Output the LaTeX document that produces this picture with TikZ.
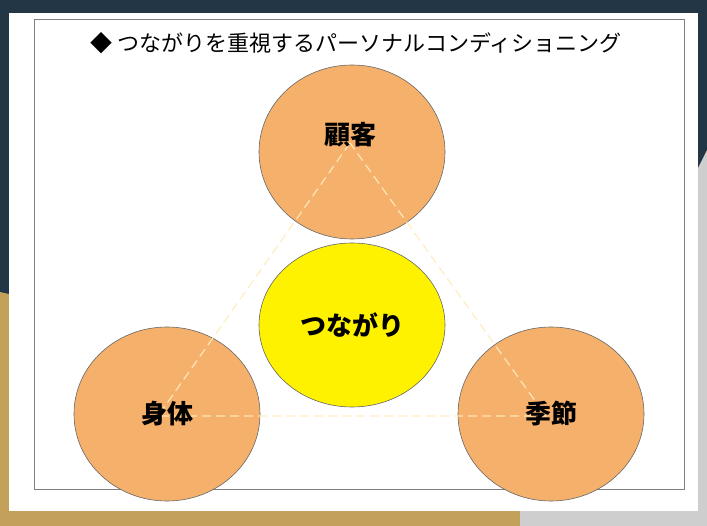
\documentclass[tikz,border=0pt]{standalone}
\usepackage{fontspec}
\setmainfont{Noto Sans CJK JP}
\newfontfamily\cjkb[BoldFont=*]{Noto Sans CJK JP Bold}
\begin{document}
\begin{tikzpicture}[x=1pt,y=-1pt,
  circ/.style={draw=black!60,line width=0.6pt,ellipse},
  lbl/.style={font=\fontsize{26}{30}\selectfont\bfseries},
  link/.style={draw=yellow!15!orange!25,dashed,dash pattern=on 9pt off 5pt,line width=1.2pt}]
\useasboundingbox (0,0) rectangle (707,526);
\fill[fill={rgb,255:red,35;green,54;blue,69}] (0,0) rectangle (707,526);
\fill[fill={rgb,255:red,196;green,161;blue,90}] (0,292) -- (0,526) -- (560,526) -- (560,420) -- cycle;
\fill[fill={rgb,255:red,206;green,206;blue,206}] (707,150) -- (707,526) -- (520,526) -- (520,505) -- (698,505) -- (698,168) -- cycle;
\fill[white] (9,13) rectangle (698,511);
\draw[black!50,line width=1pt] (34,19.5) rectangle (684,489);
\node[font=\fontsize{22}{26}\selectfont] (title) at (356,43) {◆ つながりを重視するパーソナルコンディショニング};
\fill[fill={rgb,255:red,245;green,177;blue,108},draw=black!60,line width=0.6pt] (352,152) ellipse [x radius=93, y radius=87];
\fill[fill=yellow,draw=black!60,line width=0.6pt] (352,325) ellipse [x radius=93, y radius=82];
\fill[fill={rgb,255:red,245;green,177;blue,108},draw=black!60,line width=0.6pt] (167,414) ellipse [x radius=93, y radius=87];
\fill[fill={rgb,255:red,245;green,177;blue,108},draw=black!60,line width=0.6pt] (551,414) ellipse [x radius=93, y radius=87];
\coordinate (t) at (350,143);
\coordinate (l) at (158,416);
\coordinate (r) at (546,416);
\draw[draw={rgb,255:red,255;green,236;blue,190},dash pattern=on 9pt off 5pt,line width=1.2pt,opacity=0.9] (t) -- (l) -- (r) -- cycle;
\node[lbl] (kokyaku) at (350,135) {顧客};
\node[lbl] (tsunagari) at (352,325) {つながり};
\node[lbl] (shintai) at (167,414) {身体};
\node[lbl] (kisetsu) at (551,414) {季節};
\end{tikzpicture}
\end{document}
